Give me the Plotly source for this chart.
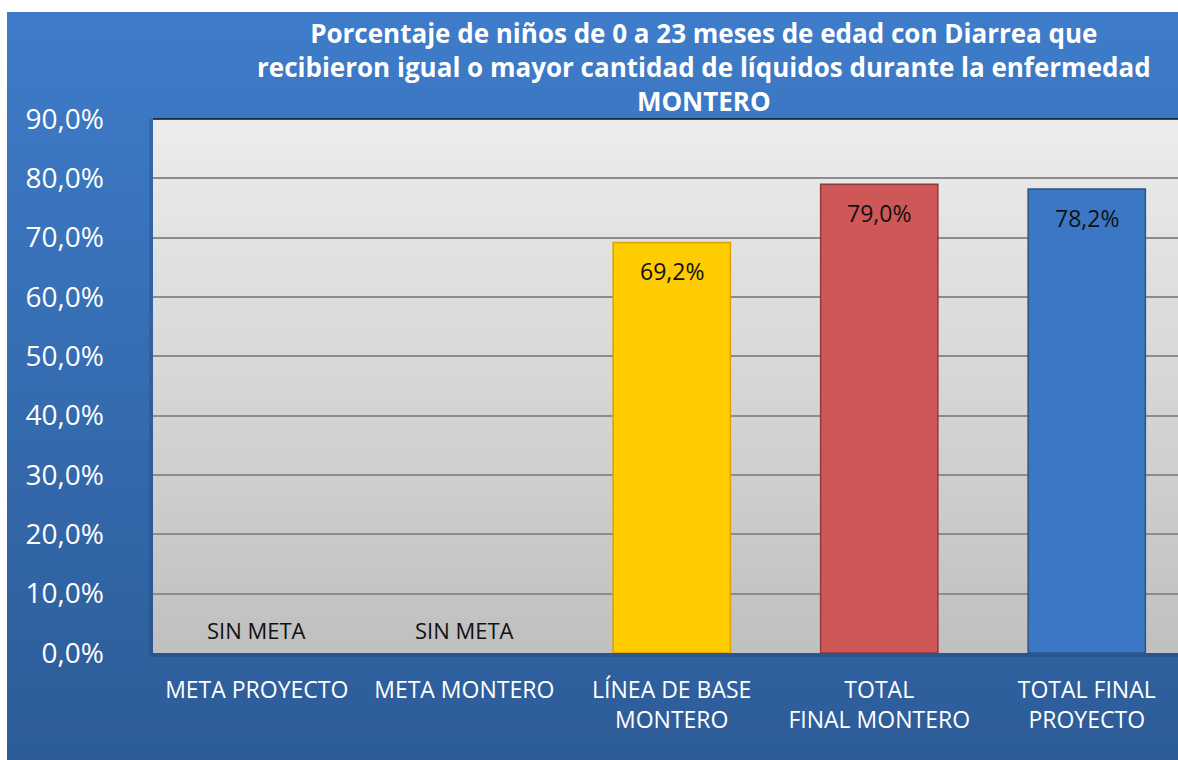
import plotly.graph_objects as go

categories = ["META PROYECTO", "META MONTERO", "LÍNEA DE BASE<br>MONTERO",
              "TOTAL<br>FINAL MONTERO", "TOTAL FINAL<br>PROYECTO"]
values = [None, None, 69.2, 79.0, 78.2]
missing_label = "SIN META"
bar_colors = ["#3E7FD0", "#3E7FD0", "#FFCC00", "#CD5857", "#3B77C4"]
bar_lines = ["#2A5285", "#2A5285", "#D9A300", "#8E3B3B", "#2B5487"]
y_ticks = [0, 10, 20, 30, 40, 50, 60, 70, 80, 90]
title_text = ("<b>Porcentaje de niños de 0 a 23 meses de edad con Diarrea que<br>"
              "recibieron igual o mayor cantidad de líquidos durante la enfermedad<br>"
              "MONTERO</b>")

FONT = "Open Sans"
OFF = 0  # page body margin removed via post_script
W, H = 1178, 760
ML, MR, MT, MB = 153 - OFF, 0, 119 - OFF, H - (653 - OFF)
PW, PH = W - ML - MR, H - MT - MB


def px_to_paper_x(px):
    return (px - OFF - ML) / PW


def px_to_paper_y(py):
    return (H - MB - (py - OFF)) / PH


def fmt(v):
    return f"{v:.1f}".replace(".", ",") + "%"


fig = go.Figure()
fig.add_trace(go.Bar(
    x=categories,
    y=values,
    width=0.565,
    marker=dict(color=bar_colors, line=dict(color=bar_lines, width=1.5)),
    showlegend=False,
    hoverinfo="skip",
))

shapes = []
# outer blue gradient box
n = 60
x0b, x1b = px_to_paper_x(7), px_to_paper_x(W + 2)
top_px, bot_px = 12, H + 2
c_top, c_bot = (62, 124, 201), (45, 92, 152)
for i in range(n):
    t = i / (n - 1)
    c = tuple(int(round(a + (b - a) * t)) for a, b in zip(c_top, c_bot))
    ya = top_px + (bot_px - top_px) * i / n
    yb = top_px + (bot_px - top_px) * (i + 1) / n + 1
    shapes.append(dict(type="rect", xref="paper", yref="paper", layer="below",
                       x0=x0b, x1=x1b, y0=px_to_paper_y(yb), y1=px_to_paper_y(ya),
                       line=dict(width=0), fillcolor=f"rgb{c}"))
# plot-area shadow
shapes.append(dict(type="rect", xref="paper", yref="paper", layer="below",
                   x0=px_to_paper_x(149), x1=1.01, y0=px_to_paper_y(657), y1=1,
                   line=dict(width=0), fillcolor="rgba(20,40,70,0.18)"))
# plot-area gray gradient
g_top, g_bot = (236, 236, 236), (192, 192, 192)
for i in range(n):
    t = i / (n - 1)
    c = tuple(int(round(a + (b - a) * t)) for a, b in zip(g_top, g_bot))
    y1 = 1 - i / n
    y0 = 1 - (i + 1) / n - 0.002
    shapes.append(dict(type="rect", xref="paper", yref="paper", layer="below",
                       x0=0, x1=1.01, y0=max(y0, 0), y1=y1,
                       line=dict(width=0), fillcolor=f"rgb{c}"))
# top border of plot area
shapes.append(dict(type="line", xref="paper", yref="paper", x0=0, x1=1.01, y0=1, y1=1,
                   line=dict(color="#111111", width=1.5)))

annotations = []
for cat, v in zip(categories, values):
    if v is None:
        annotations.append(dict(x=cat, y=0, xref="x", yref="y", text=missing_label,
                                showarrow=False, yanchor="middle", yshift=23,
                                font=dict(family=FONT, size=22, color="#111111")))
    else:
        annotations.append(dict(x=cat, y=v, xref="x", yref="y", text=fmt(v),
                                showarrow=False, yanchor="middle", yshift=-29,
                                font=dict(family=FONT, size=23, color="#111111")))
# title
annotations.append(dict(x=px_to_paper_x(704), y=px_to_paper_y(67), xref="paper", yref="paper",
                        text=title_text, showarrow=False, xanchor="center", yanchor="middle",
                        align="center",
                        font=dict(family=FONT, size=26, color="white")))

fig.update_layout(
    width=W, height=H,
    margin=dict(l=ML, r=MR, t=MT, b=MB),
    paper_bgcolor="white",
    plot_bgcolor="rgba(0,0,0,0)",
    shapes=shapes,
    annotations=annotations,
    xaxis=dict(range=[-0.5, -0.5 + PW / 207.5], showgrid=False, zeroline=False,
               showline=False, ticks="", tickfont=dict(family=FONT, size=23, color="white"),
               ticklabelstandoff=21, fixedrange=True),
    yaxis=dict(range=[0, 90], tickvals=y_ticks,
               ticktext=[fmt(v) for v in y_ticks],
               showgrid=True, gridcolor="#8C8C8C", gridwidth=1.5,
               zeroline=False, showline=False, ticks="",
               tickfont=dict(family=FONT, size=28, color="white"),
               ticklabelstandoff=48, fixedrange=True),
)

fig.write_html("out.html", config={"displayModeBar": False},
               post_script="document.body.style.margin='0';document.body.style.overflow='hidden';")
